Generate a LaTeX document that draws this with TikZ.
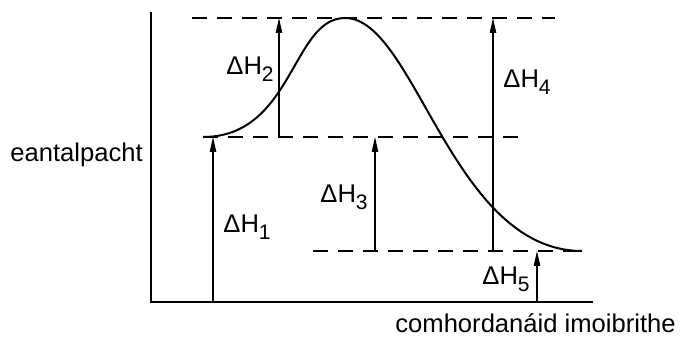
\documentclass[tikz,border=0pt]{standalone}
\usepackage{fontspec}
\setmainfont{Liberation Sans}
\usetikzlibrary{arrows.meta}
\newcommand{\dH}[1]{ΔH\raisebox{-3.5pt}{\fontsize{10.5}{10.5}\selectfont #1}}
\tikzset{
  axisline/.style={line width=1.3pt},
  profile/.style={line width=1pt},
  level/.style={line width=0.55pt, dash pattern=on 7.5pt off 5pt},
  harr/.style={-{Triangle[length=7.5pt,width=3.2pt]}, line width=0.55pt},
  lbl/.style={anchor=base west, inner sep=0pt, font=\fontsize{12.8}{15}\selectfont}
}

\begin{document}
\begin{tikzpicture}[x=0.5pt, y=-0.5pt]
  \useasboundingbox (0,0) rectangle (681,340);

  % axes
  \coordinate (origin) at (151,302);
  \coordinate (ytop) at (151,12);
  \coordinate (xend) at (593,302);
  \draw[axisline] (ytop) -- (origin) -- (xend);

  % energy levels: reactants, transition state, products
  \coordinate (react) at (203,137);
  \coordinate (ts) at (345,18);
  \coordinate (prod) at (582,251);
  \coordinate (ts-l) at (192,18);
  \coordinate (ts-r) at (555,18);
  \coordinate (react-r) at (522,137);
  \coordinate (prod-l) at (313,251);
  \draw[level] (ts-l) -- (ts-r);
  \draw[level] (react) -- (react-r);
  \draw[level] (prod-l) -- (prod);

  % reaction profile
  \draw[profile] (react) .. controls (293,137) and (292,18) .. (ts)
                         .. controls (415,18) and (452,251) .. (prod);

  % enthalpy arrows
  \coordinate (h1a) at (213,302); \coordinate (h1b) at (213,137);
  \coordinate (h2a) at (279,137); \coordinate (h2b) at (279,18);
  \coordinate (h3a) at (375,251); \coordinate (h3b) at (375,137);
  \coordinate (h4a) at (493,251); \coordinate (h4b) at (493,18);
  \coordinate (h5a) at (537,302); \coordinate (h5b) at (537,251);
  \draw[harr] (h1a) -- (h1b);
  \draw[harr] (h2a) -- (h2b);
  \draw[harr] (h3a) -- (h3b);
  \draw[harr] (h4a) -- (h4b);
  \draw[harr] (h5a) -- (h5b);

  \node[lbl] (dh1) at (223,233) {\dH{1}};
  \node[lbl] (dh2) at (226,75) {\dH{2}};
  \node[lbl] (dh3) at (320,203) {\dH{3}};
  \node[lbl] (dh4) at (503,88) {\dH{4}};
  \node[lbl] (dh5) at (482,285) {\dH{5}};

  % axis titles
  \node[lbl] (ylab) at (10,162) {eantalpacht};
  \node[lbl] (xlab) at (395,333) {comhordanáid imoibrithe};
\end{tikzpicture}
\end{document}
